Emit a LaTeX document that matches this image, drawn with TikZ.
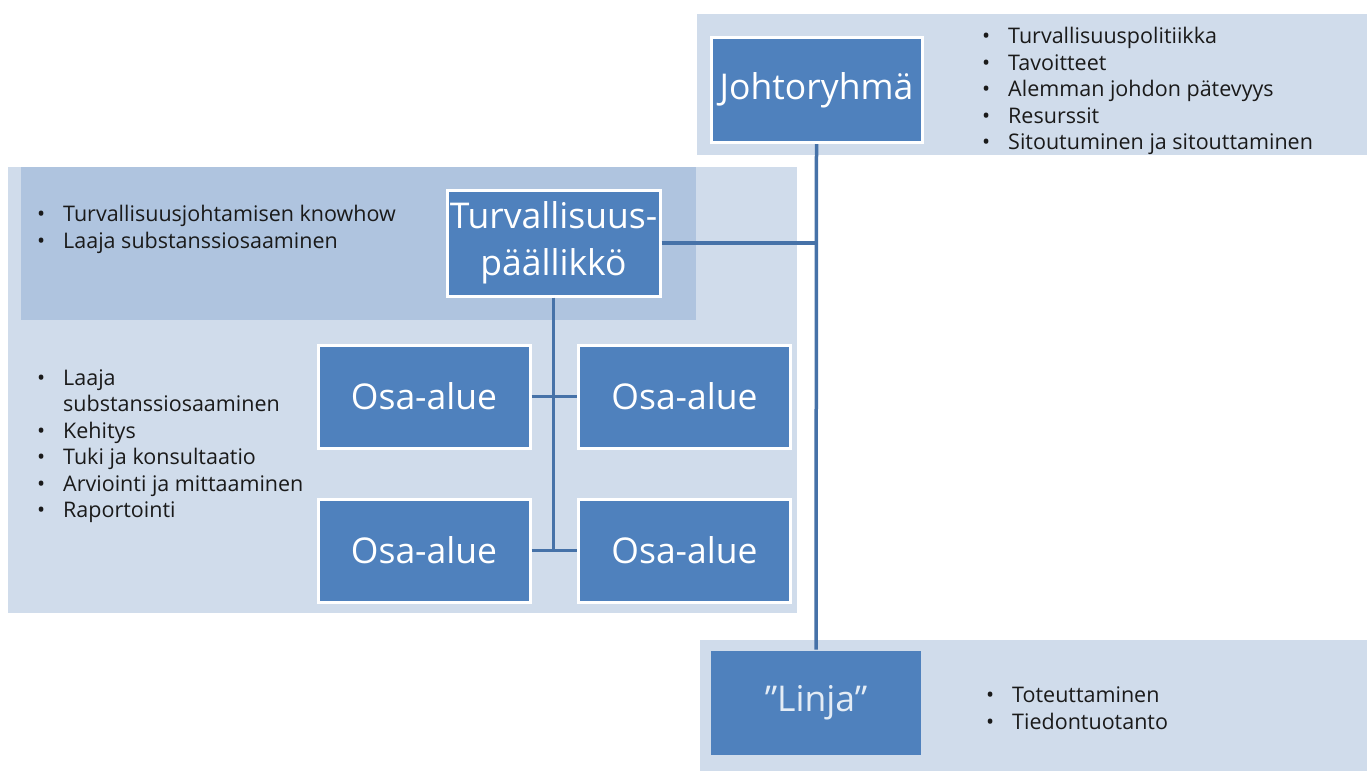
\documentclass[tikz,border=0pt]{standalone}
\usepackage{fontspec}
\setmainfont{Open Sans}
\definecolor{boxblue}{HTML}{4F81BD}
\definecolor{bandlight}{HTML}{D0DCEB}
\definecolor{banddark}{HTML}{AFC4DF}
\definecolor{linec}{HTML}{4672A8}
\definecolor{txt}{HTML}{1A1A1A}
\newcommand{\bl}{\makebox[26pt][l]{•}}
\begin{document}
\begin{tikzpicture}[x=1pt,y=-1pt,
  unit/.style={draw=white, line width=3pt, fill=boxblue, text=white,
    font=\fontsize{35.5}{47}\selectfont, align=center, inner sep=0pt},
  conn/.style={draw=linec, line width=3.5pt},
  list/.style={anchor=base west, inner sep=0pt, text=txt,
    font=\fontsize{21.5}{26.5}\selectfont, align=left}]
\useasboundingbox (0,0) rectangle (1367,771);
% bands
\fill[bandlight] (697,14) rectangle (1367,155);
\fill[bandlight] (8,167) rectangle (797,613);
\fill[banddark] (21,167) rectangle (696,320);
\fill[bandlight] (700,640) rectangle (1367,771);
% boxes
\node[unit, minimum width=211pt, minimum height=105pt] (J) at (816.5,90) {Johtoryhmä};
\node[unit, minimum width=213pt, minimum height=106pt] (TP) at (553.5,243) {Turvallisuus-\\päällikkö};
\node[unit, minimum width=212pt, minimum height=103pt] (TL) at (424,396.5) {Osa-alue};
\node[unit, minimum width=212pt, minimum height=103pt] (TR) at (684.5,396.5) {Osa-alue};
\node[unit, minimum width=212pt, minimum height=103pt] (BL) at (424,550.5) {Osa-alue};
\node[unit, minimum width=212pt, minimum height=103pt] (BR) at (684.5,550.5) {Osa-alue};
\node[unit, draw=none, text=white!85!boxblue, minimum width=210pt, minimum height=104pt] (L) at (816,703) {”Linja”};
% connectors
\draw[conn] (J.south) -- (L.north);
\draw[conn] (TP.east) -- (TP.east -| J.south);
\draw[conn] (TP.south) -- (TP.south |- BL.east);
\draw[conn] (TL.east) -- (TR.west);
\draw[conn] (BL.east) -- (BR.west);
% lists
\node[list] (LJ) at (982,43.5) {\begin{tabular}[t]{@{}l@{}l@{}}
\bl & Turvallisuuspolitiikka\\
\bl & Tavoitteet\\
\bl & Alemman johdon pätevyys\\
\bl & Resurssit\\
\bl & Sitoutuminen ja sitouttaminen
\end{tabular}};
\node[list] (LT) at (37,221.5) {\begin{tabular}[t]{@{}l@{}l@{}}
\bl & Turvallisuusjohtamisen knowhow\\
\bl & Laaja substanssiosaaminen
\end{tabular}};
\node[list] (LO) at (37,385) {\begin{tabular}[t]{@{}l@{}l@{}}
\bl & Laaja\\
 & substanssiosaaminen\\
\bl & Kehitys\\
\bl & Tuki ja konsultaatio\\
\bl & Arviointi ja mittaaminen\\
\bl & Raportointi
\end{tabular}};
\node[list] (LL) at (986,702.5) {\begin{tabular}[t]{@{}l@{}l@{}}
\bl & Toteuttaminen\\
\bl & Tiedontuotanto
\end{tabular}};
\end{tikzpicture}
\end{document}
